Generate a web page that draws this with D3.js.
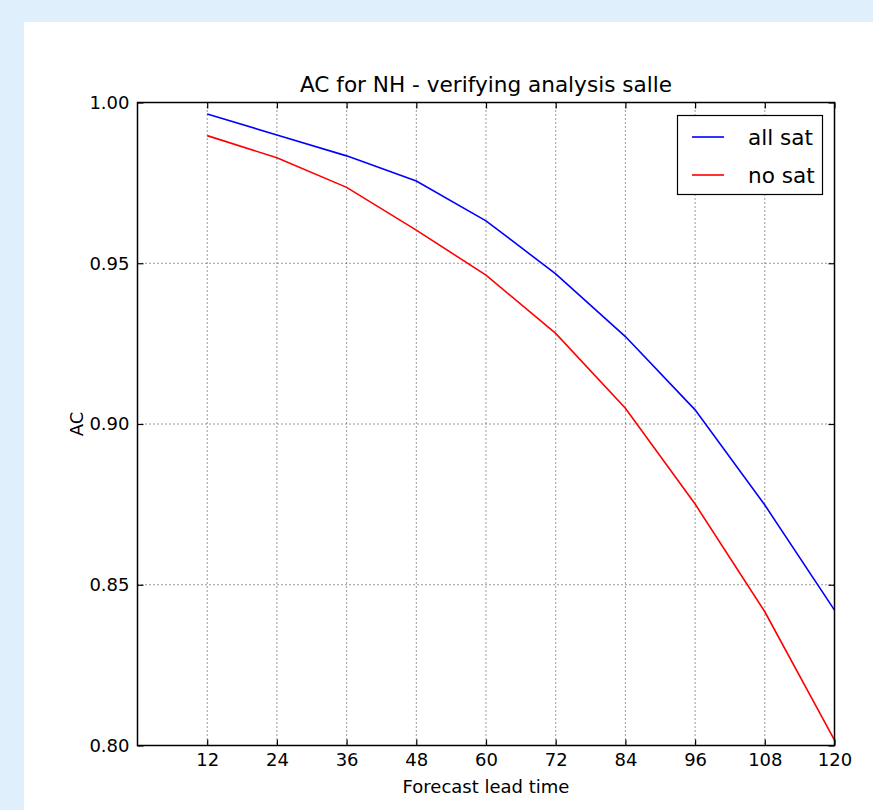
<!DOCTYPE html>
<html>
<head>
<meta charset="utf-8">
<script src="https://cdn.jsdelivr.net/npm/d3@7"></script>
<style>
  html, body { margin: 0; padding: 0; background: #dff0fc; }
  svg { display: block; }
  text { font-family: "DejaVu Sans", sans-serif; fill: #000; }
  .tick line { stroke: #000; stroke-width: 1.2; }
  .grid line { stroke: #000; stroke-width: 0.8; stroke-dasharray: 1,3; }
</style>
</head>
<body>
<div id="chart"></div>
<script>
// data
var leadTimes = [12, 24, 36, 48, 60, 72, 84, 96, 108, 120];
var allSat = [0.9964, 0.9899, 0.9834, 0.9756, 0.9632, 0.9467, 0.9272, 0.9044, 0.8748, 0.8421];
var noSat = [0.9897, 0.9828, 0.9736, 0.9603, 0.9463, 0.9282, 0.9049, 0.8751, 0.8416, 0.8017];
var yTicks = [0.80, 0.85, 0.90, 0.95, 1.00];
var seriesNames = ["all sat", "no sat"];
var seriesColors = ["#0000ff", "#ff0000"];

var W = 873, H = 810;
var margin = {top: 102.5, right: 38.5, bottom: 64.5, left: 137.5},
    width = W - margin.left - margin.right,
    height = H - margin.top - margin.bottom;

var svg = d3.select("#chart").append("svg")
    .attr("width", W)
    .attr("height", H);

// white panel
svg.append("rect")
    .attr("x", 24).attr("y", 22)
    .attr("width", W - 24).attr("height", H - 22)
    .attr("fill", "#fff");

var g = svg.append("g")
    .attr("transform", "translate(" + margin.left + "," + margin.top + ")");

var x = d3.scaleLinear().domain([0, 120]).range([0, width]);
var y = d3.scaleLinear().domain([0.80, 1.00]).range([height, 0]);

// grid
g.append("g").attr("class", "grid")
    .selectAll("line").data(leadTimes).enter().append("line")
    .attr("x1", function (d) { return x(d); })
    .attr("x2", function (d) { return x(d); })
    .attr("y1", 0).attr("y2", height);
g.append("g").attr("class", "grid")
    .selectAll("line").data(yTicks).enter().append("line")
    .attr("x1", 0).attr("x2", width)
    .attr("y1", function (d) { return y(d); })
    .attr("y2", function (d) { return y(d); });

// axes, ticks pointing inward
var xAxis = g.append("g")
    .attr("transform", "translate(0," + height + ")")
    .call(d3.axisBottom(x).tickValues(leadTimes).tickSize(-6).tickPadding(8));
var xTop = g.append("g")
    .call(d3.axisTop(x).tickValues(leadTimes).tickSize(-6).tickFormat(""));
var yAxis = g.append("g")
    .call(d3.axisLeft(y).tickValues(yTicks).tickSize(-6).tickPadding(8).tickFormat(d3.format(".2f")));
var yRight = g.append("g")
    .attr("transform", "translate(" + width + ",0)")
    .call(d3.axisRight(y).tickValues(yTicks).tickSize(-6).tickFormat(""));
[xAxis, xTop, yAxis, yRight].forEach(function (a) {
    a.select(".domain").remove();
    a.selectAll("text").style("font-size", "18px").style("font-family", "DejaVu Sans");
});

// lines
var line = d3.line()
    .x(function (d, i) { return x(leadTimes[i]); })
    .y(function (d) { return y(d); });
[allSat, noSat].forEach(function (s, i) {
    g.append("path")
        .datum(s)
        .attr("fill", "none")
        .attr("stroke", seriesColors[i])
        .attr("stroke-width", 1.6)
        .attr("d", line);
});

// frame
g.append("rect")
    .attr("width", width).attr("height", height)
    .attr("fill", "none").attr("stroke", "#000").attr("stroke-width", 1.5);

// title and labels
g.append("text")
    .attr("x", width / 2).attr("y", -10.5)
    .style("text-anchor", "middle")
    .style("font-size", "21.6px")
    .text("AC for NH - verifying analysis salle");
g.append("text")
    .attr("x", width / 2).attr("y", height + 47)
    .style("text-anchor", "middle")
    .style("font-size", "18px")
    .text("Forecast lead time");
g.append("text")
    .attr("transform", "translate(" + (83 - margin.left) + "," + (height / 2) + ") rotate(-90)")
    .style("text-anchor", "middle")
    .style("font-size", "18px")
    .text("AC");

// legend
var lg = svg.append("g");
lg.append("rect")
    .attr("x", 677.5).attr("y", 115.5)
    .attr("width", 145).attr("height", 79)
    .attr("fill", "#fff").attr("stroke", "#000").attr("stroke-width", 1.2);
seriesNames.forEach(function (name, i) {
    var yy = 137 + i * 38;
    lg.append("line")
        .attr("x1", 692).attr("x2", 724)
        .attr("y1", yy).attr("y2", yy)
        .attr("stroke", seriesColors[i]).attr("stroke-width", 1.6);
    lg.append("text")
        .attr("x", 748).attr("y", yy + 8)
        .style("font-size", "21.6px")
        .text(name);
});
</script>
</body>
</html>
